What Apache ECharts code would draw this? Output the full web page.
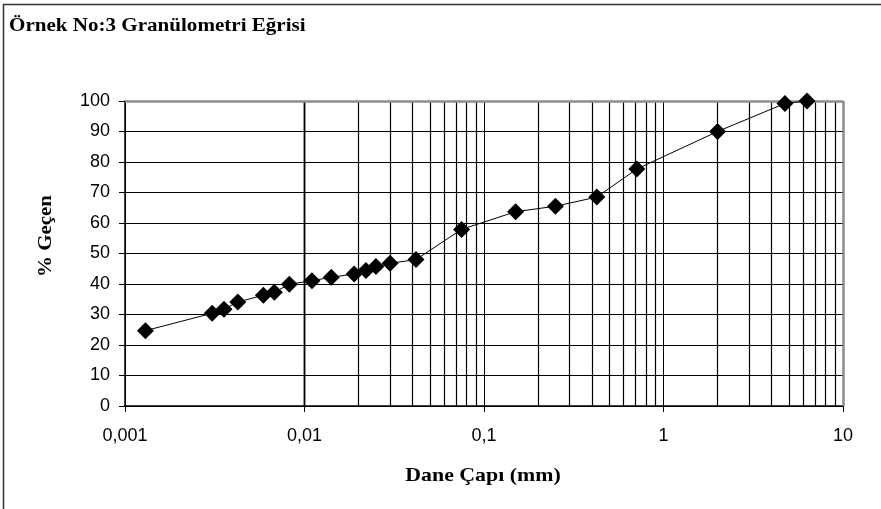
<!DOCTYPE html>
<html>
<head>
<meta charset="utf-8">
<script src="https://cdn.jsdelivr.net/npm/echarts@6/dist/echarts.min.js"></script>
<style>
  html, body { margin: 0; padding: 0; background: #fff; }
  #chart { width: 881px; height: 509px; }
</style>
</head>
<body>
<div id="chart"></div>
<script>
// Grain size distribution (sieve + hydrometer) for sample No:3
var grainSize = [0.0013, 0.00306, 0.00356, 0.00425, 0.0059, 0.00679, 0.00823, 0.011, 0.0141, 0.0189, 0.022, 0.025, 0.030, 0.0418, 0.075, 0.15, 0.25, 0.425, 0.71, 2.0, 4.75, 6.3];
var passing = [24.7, 30.4, 31.7, 34.1, 36.3, 37.3, 39.9, 41.1, 42.2, 43.3, 44.4, 45.7, 46.8, 48.0, 57.9, 63.7, 65.5, 68.5, 77.7, 90.0, 99.2, 100];

var xTickLabels = ['0,001', '0,01', '0,1', '1', '10'];
var yTicks = [0, 10, 20, 30, 40, 50, 60, 70, 80, 90, 100];

var titleText = 'Örnek No:3 Granülometri Eğrisi';
var xName = 'Dane Çapı (mm)';
var yName = '% Geçen';

// minor log gridlines: 2..9 within each decade
var minorDecades = [0.001, 0.01, 0.1, 1];
var minorSteps = [2, 3, 4, 5, 6, 7, 8, 9];

var points = grainSize.map(function (d, i) { return [d, passing[i]]; });

var minorLines = [];
minorDecades.forEach(function (dec) {
  minorSteps.forEach(function (s) {
    minorLines.push({ xAxis: +(dec * s).toPrecision(6) });
  });
});

var serif = '"Liberation Serif", "Times New Roman", serif';
var sans = '"Liberation Sans", Arial, sans-serif';

var chart = echarts.init(document.getElementById('chart'), null, { renderer: 'canvas' });

chart.setOption({
  animation: false,
  backgroundColor: '#ffffff',
  grid: { left: 125, top: 101, right: 38, bottom: 103, containLabel: false },
  xAxis: {
    type: 'log',
    logBase: 10,
    min: 0.001,
    max: 10,
    axisLine: { show: true, lineStyle: { color: '#000', width: 1.5 } },
    axisTick: { show: true, length: 6, lineStyle: { color: '#000', width: 1 } },
    axisLabel: {
      margin: 21,
      fontFamily: sans,
      fontSize: 18,
      color: '#000',
      showMinLabel: true,
      showMaxLabel: true,
      formatter: function (v) {
        return xTickLabels[Math.round(Math.log10(v)) + 3];
      }
    },
    splitLine: { show: true, lineStyle: { color: '#000', width: 1 } }
  },
  yAxis: {
    type: 'value',
    min: 0,
    max: 100,
    interval: 10,
    axisLine: { show: true, lineStyle: { color: '#000', width: 1.5 } },
    axisTick: { show: true, length: 6, lineStyle: { color: '#000', width: 1 } },
    axisLabel: {
      margin: 15,
      fontFamily: sans,
      fontSize: 18,
      color: '#000',
      formatter: function (v) { return yTicks.indexOf(v) >= 0 ? String(v) : ''; }
    },
    splitLine: { show: true, lineStyle: { color: '#000', width: 1 } }
  },
  series: [
    {
      type: 'line',
      data: points,
      symbol: 'diamond',
      symbolSize: 17,
      itemStyle: { color: '#000' },
      lineStyle: { color: '#000', width: 1 },
      z: 5,
      markLine: {
        silent: true,
        symbol: 'none',
        label: { show: false },
        lineStyle: { color: '#000', width: 1.2, type: 'solid' },
        data: minorLines
      }
    },
    {
      // plot frame top and right edges
      type: 'line',
      data: [],
      z: 4,
      markLine: {
        silent: true,
        symbol: 'none',
        label: { show: false },
        lineStyle: { color: '#8c8c8c', width: 2.5, type: 'solid' },
        data: [{ yAxis: 100 }, { xAxis: 10 }]
      }
    }
  ],
  graphic: [
    {
      type: 'rect',
      shape: { x: 3.5, y: 4.5, width: 1000, height: 1000 },
      style: { fill: 'none', stroke: '#333', lineWidth: 1.5 },
      silent: true
    },
    {
      type: 'text',
      x: 9,
      y: 26,
      scaleX: 1.17,
      style: {
        text: titleText,
        fontFamily: serif,
        fontWeight: 'bold',
        fontSize: 18,
        fill: '#000',
        align: 'left',
        verticalAlign: 'middle'
      }
    },
    {
      type: 'text',
      x: 483,
      y: 476,
      scaleX: 1.15,
      style: {
        text: xName,
        fontFamily: serif,
        fontWeight: 'bold',
        fontSize: 19,
        fill: '#000',
        align: 'center',
        verticalAlign: 'middle'
      }
    },
    {
      type: 'text',
      x: 46,
      y: 236,
      rotation: Math.PI / 2,
      scaleX: 1.1,
      style: {
        text: yName,
        fontFamily: serif,
        fontWeight: 'bold',
        fontSize: 19,
        fill: '#000',
        align: 'center',
        verticalAlign: 'middle'
      }
    }
  ]
});
</script>
</body>
</html>
